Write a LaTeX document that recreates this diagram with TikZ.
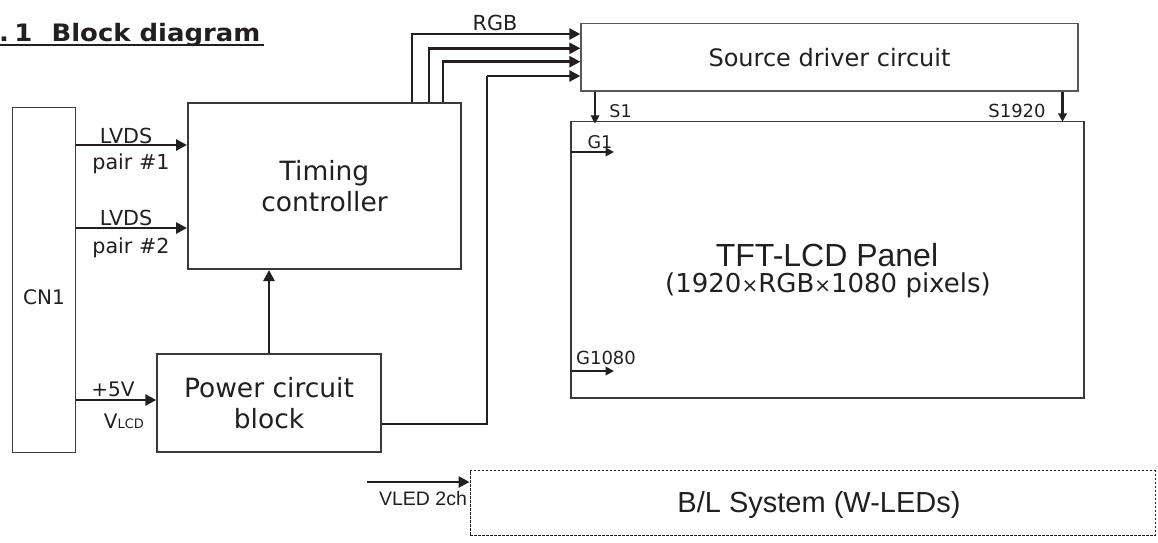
\documentclass[tikz,border=0pt]{standalone}
\usepackage{fontspec}
\setmainfont{DejaVu Sans}
\newfontfamily\arialf{Liberation Sans}
\usetikzlibrary{arrows.meta}
\definecolor{ink}{HTML}{231F20}
\definecolor{edge}{HTML}{3A3A3A}
\newcommand{\fs}[1]{\fontsize{#1}{#1}\selectfont}
\begin{document}
\begin{tikzpicture}[x=1pt,y=-1pt,
  box/.style={draw=edge, line width=1.4pt, inner sep=0pt, text=ink},
  lbl/.style={inner sep=0pt, text=ink},
  arr/.style={draw=ink, line width=2.6pt, -{Triangle[length=11pt,width=11pt]}},
  sarr/.style={draw=ink, line width=2.1pt, -{Triangle[length=8.5pt,width=8.5pt]}},
  wire/.style={draw=ink, line width=2.6pt}]
\useasboundingbox (0,0) rectangle (1158,542);
\fill[white] (0,0) rectangle (1158,542);

% title
\node[lbl, anchor=base west] (ttl) at (-1,41) {\scalebox{1.08}[1]{\fs{24}\bfseries\makebox[48.5pt][l]{.\hspace{5pt}1}Block diagram}};
\draw[ink, line width=2pt] (0,44.5) -- (263.5,44.5);

% blocks
\node[box, minimum width=63pt, minimum height=345pt] (cn1) at (44.2,279.7) {};
\node[lbl] (cn1t) at (44,297) {\fs{20}CN1};
\node[box, line width=2pt, minimum width=273pt, minimum height=166pt, align=center,
      font={\fontsize{26.5}{31.5}\selectfont}] (tc) at (324.5,186) {Timing\\controller};
\node[box, minimum width=224pt, minimum height=98pt, align=center,
      font={\fontsize{26.5}{31}\selectfont}] (pw) at (269,403) {Power circuit\\block};
\node[box, draw=edge!85, line width=1.3pt, minimum width=497pt, minimum height=67.7pt,
      font=\fs{24}] (src) at (829.5,57.2) {Source driver circuit};
\node[box, minimum width=513pt, minimum height=276.5pt] (pnl) at (827.5,259.7) {};
\node[lbl] (pnlt) at (827,255) {\arialf\fs{32}TFT-LCD Panel};
\node[lbl] (pnls) at (828,285) {\fs{26}(1920{\fs{20}×}RGB{\fs{20}×}1080 pixels)};
\node[box, draw=ink, line width=0.9pt, dash pattern=on 2.5pt off 1.5pt,
      minimum width=685pt, minimum height=64.3pt] (bl) at (812.5,502.9) {};
\node[lbl] (blt) at (819,505) {\arialf\fs{29}B/L System (W-LEDs)};

% labels
\node[lbl] (lv1) at (126,135.7) {\fs{20.7}LVDS};
\node[lbl] (pr1) at (131,164) {\fs{20.7}pair \#1};
\node[lbl] (lv2) at (126,218) {\fs{20.7}LVDS};
\node[lbl] (pr2) at (131,248) {\fs{20.7}pair \#2};
\node[lbl] (p5) at (113,389) {\fs{20}+5V};
\node[lbl] (vlcd) at (124,421.7) {\fs{20}V{\fs{13}LCD}};
\node[lbl] (rgb) at (495,23) {\fs{20.7}RGB};
\node[lbl] (s1) at (620.6,110.7) {\fs{17.5}S1};
\node[lbl] (s1920) at (1017,110.5) {\fs{18}S1920};
\node[lbl] (g1) at (600,141.7) {\fs{17.5}G1};
\node[lbl] (g1080) at (606,358) {\fs{18}G1080};
\node[lbl] (vled) at (423,499) {\arialf\fs{19.5}VLED 2ch};

% helper coordinates
\coordinate (l1) at (0,145);
\coordinate (l2) at (0,228);
\coordinate (l5) at (0,400);
\coordinate (r1) at (412,34);
\coordinate (r2) at (429,48.3);
\coordinate (r3) at (443,61.7);
\coordinate (r4) at (487,76);
\coordinate (p4) at (0,424);
\coordinate (sx1) at (595,0);
\coordinate (sx2) at (1062.5,0);
\coordinate (g1e) at (614,152);
\coordinate (g2e) at (614,371);
\coordinate (vl) at (367,482);

% connectors
\draw[arr] (cn1.east |- l1) -- (tc.west |- l1);
\draw[arr] (cn1.east |- l2) -- (tc.west |- l2);
\draw[arr] (cn1.east |- l5) -- (pw.west |- l5);
\draw[arr] (pw.north) -- (pw.north |- tc.south);
\draw[arr] (tc.north -| r1) |- (src.west |- r1);
\draw[arr] (tc.north -| r2) |- (src.west |- r2);
\draw[arr] (tc.north -| r3) |- (src.west |- r3);
\draw[wire] (pw.east |- p4) -| (r4);
\draw[arr] (r4) -- (src.west |- r4);
\draw[sarr] (src.south -| sx1) -- ([yshift=-3pt]pnl.north -| sx1);
\draw[sarr] (src.south -| sx2) -- ([yshift=-1pt]pnl.north -| sx2);
\draw[sarr] (pnl.west |- g1e) -- (g1e);
\draw[sarr] (pnl.west |- g2e) -- (g2e);
\draw[arr] (vl) -- (bl.west |- vl);
\end{tikzpicture}
\end{document}
